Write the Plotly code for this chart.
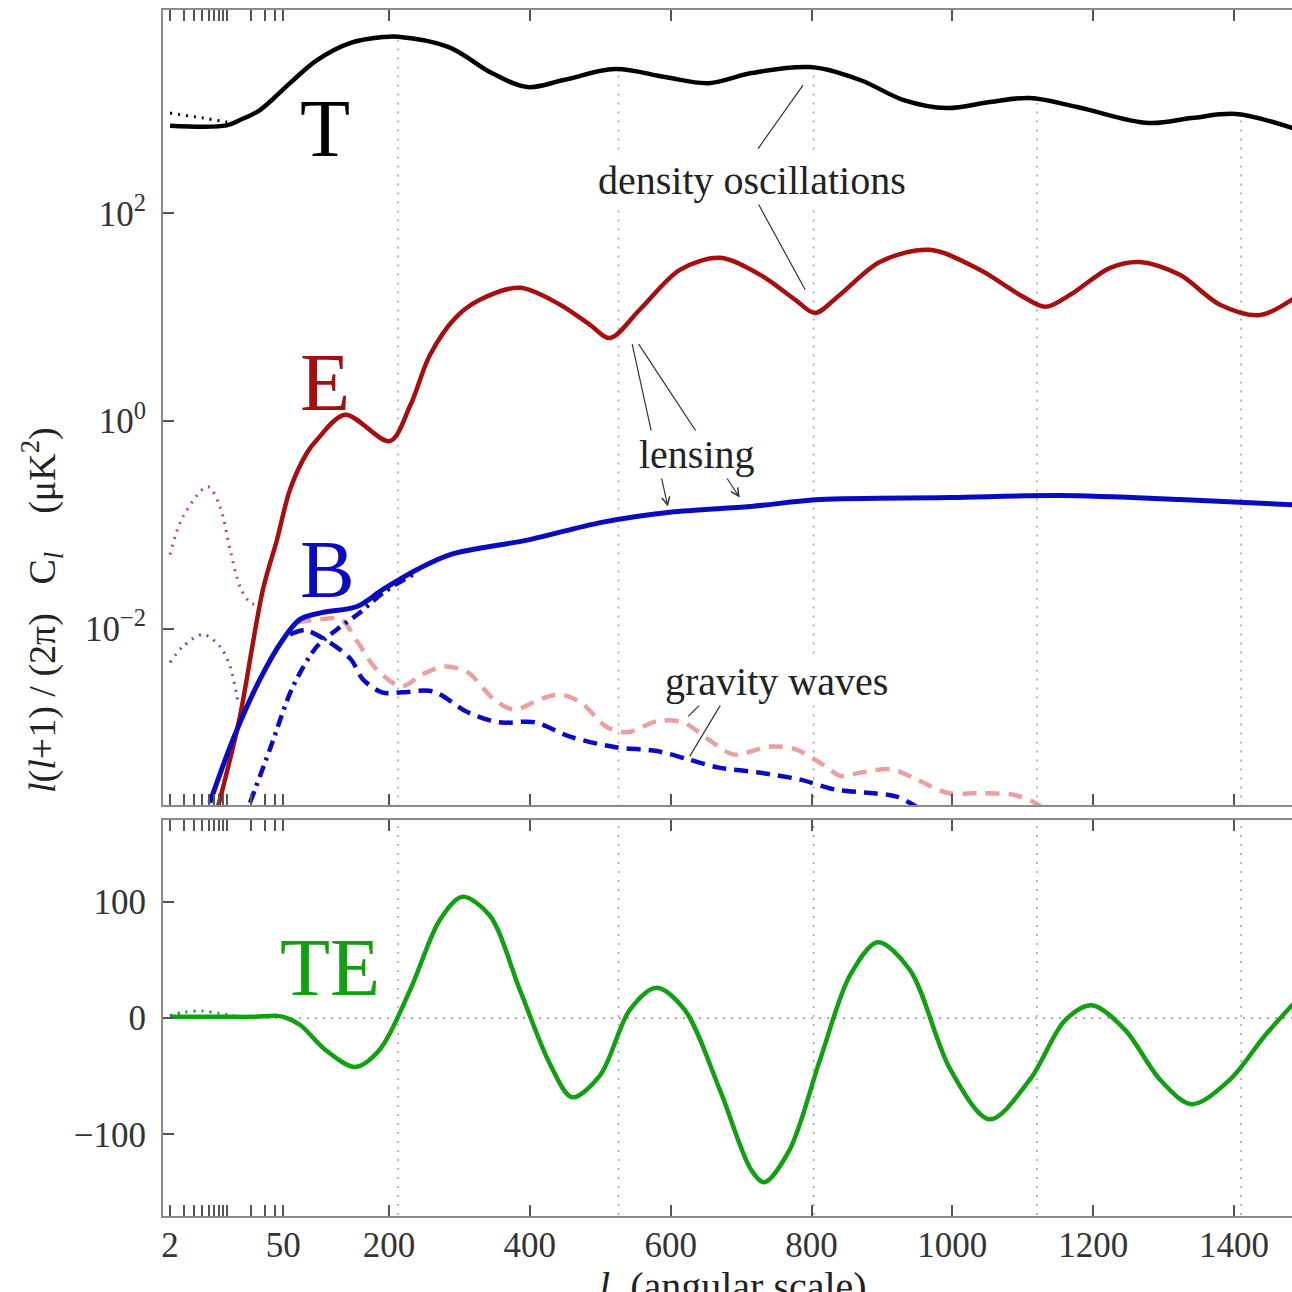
import numpy as np
import plotly.graph_objects as go

# ---------------- data ----------------
# Temperature spectrum
T_l = [2, 10, 14.6, 25.7, 59.4, 97.8, 144.6, 191.5, 213, 285, 346, 397, 448, 521, 592, 654, 715, 798,
       869, 931, 992, 1053, 1110, 1177, 1279, 1340, 1403, 1490]
T_v = [700, 705, 794, 990, 1800, 3000, 4380, 5000, 5050, 4010, 2250, 1650, 1930, 2460, 2060, 1800, 2250, 2570,
       1930, 1235, 1035, 1183, 1294, 1060, 743, 830, 908, 640]
# T reionization (dotted)
Tre_l = [2, 5.1, 10, 15]
Tre_v = [927, 830, 760, 720]

# E polarization
E_l = [7.8, 11.0, 14.6, 28.0, 41.8, 59.4, 83.6, 97.8, 137.5, 201, 230, 258, 294, 329, 386, 443, 485, 514,
       556, 613, 670, 727, 777, 805, 840, 897, 968, 1039, 1096, 1132, 1167, 1224, 1266, 1323, 1380, 1437, 1490]
E_v = [1.9e-4, 5.5e-4, 1.43e-3, 0.0238, 0.072, 0.218, 0.494, 0.66, 1.15, 0.64, 1.4, 4.3, 9.8, 14.7, 19.2,
       13.2, 8.5, 6.3, 11.8, 28.6, 37.3, 25.6, 14.7, 11.0, 16.4, 34.1, 44.6, 28.6, 16.4, 12.6, 16.4, 29.9,
       34.0, 25.6, 13.2, 10.5, 16.0]
# E reionization bump (dotted)
Ere_l = [2, 2.89, 5.84, 8.26, 11.0, 14.6, 19.4, 23.9]
Ere_v = [0.0516, 0.12, 0.233, 0.15, 0.0577, 0.0254, 0.0178, 0.017]

# B polarization (total)
B_l = [6.2, 12.0, 25.7, 49.5, 73.6, 106, 154.6, 191.5, 240, 287, 400, 500, 599, 713, 812, 997, 1153, 1323, 1490]
B_v = [2.1e-4, 8.6e-4, 0.00324, 0.00785, 0.01225, 0.0143, 0.0163, 0.0238, 0.0371, 0.0517, 0.072, 0.105,
       0.132, 0.150, 0.175, 0.183, 0.191, 0.175, 0.155]
# B reionization bump (dotted)
Bre_l = [2, 2.89, 5.1, 8.26, 11.0, 13.8]
Bre_v = [0.00472, 0.00673, 0.00877, 0.00673, 0.00431, 0.00195]
# B from lensing (dash-dot)
Blens_l = [19.4, 34.2, 63.7, 97.8, 126, 159, 194, 240]
Blens_v = [2.1e-4, 6.9e-4, 0.00277, 0.00673, 0.0098, 0.0143, 0.0227, 0.035]
# B from gravity waves (dashed)
Bgw_l = [59.4, 80, 87.8, 116, 146, 163, 190, 218.5, 262.5, 312, 356, 407, 457, 522, 580.5, 624.6, 667,
         725, 784, 835, 884, 921, 950]
Bgw_v = [0.0088, 0.0097, 0.00937, 0.00735, 0.00505, 0.00324, 0.00243, 0.00243, 0.00248, 0.00156, 0.00125,
         0.00125, 9.1e-4, 7.2e-4, 6.6e-4, 5.5e-4, 4.6e-4, 4.1e-4, 3.5e-4, 2.8e-4, 2.6e-4, 2.4e-4, 1.9e-4]
# E from gravity waves (light dashed)
Egw_l = [70, 102, 132, 155, 183, 218.5, 247, 279.5, 312, 349, 377.5, 414.5, 443, 472.6, 508, 538, 580.5,
         617.5, 653, 690, 740, 776.5, 812, 842, 870, 914, 950, 994, 1038, 1087.5, 1117, 1132]
Egw_v = [0.0115, 0.01225, 0.01225, 0.0075, 0.0040, 0.00277, 0.00361, 0.00431, 0.00378, 0.00208, 0.00166,
         0.00208, 0.00232, 0.00194, 0.00114, 0.0010, 0.00128, 0.00125, 8.6e-4, 6.1e-4, 7.3e-4, 6.9e-4,
         5.1e-4, 3.8e-4, 4.1e-4, 4.4e-4, 3.5e-4, 2.6e-4, 2.6e-4, 2.5e-4, 2.1e-4, 1.8e-4]

# TE cross spectrum
TE_l = [2, 10, 20, 30, 40, 50, 74, 109, 152, 187, 230, 272, 304, 343, 386, 429, 460, 500, 542, 580, 620,
        670, 714, 733, 769, 812, 855, 894, 940, 997, 1053, 1110, 1160, 1198, 1245, 1295, 1340, 1394, 1444, 1490]
TE_v = [1, 1, 1, 1.5, 2, 1, -6, -27, -42, -27, 24, 84, 104, 88, 24, -40, -68, -49, 7, 26, 7,
        -62, -130, -141, -113, -36, 37, 65, 41, -44, -87, -53, -2, 11, -10, -53, -74, -53, -15, 16]
TEre_l = [2, 3, 5, 8, 12, 20]
TEre_v = [2, 5, 6, 4, 2, 0.5]

# acoustic peak markers (dotted verticals)
peak_l = [213, 526, 803, 1120, 1410]

# axis ticks
tick_l = [2, 3, 4, 5, 6, 7, 8, 9, 10, 20, 30, 40, 50, 200, 400, 600, 800, 1000, 1200, 1400]
tick_txt = ['2'] + [''] * 11 + ['50', '200', '400', '600', '800', '1000', '1200', '1400']
ytop_ticks = [1e-2, 1, 1e2]
ytop_txt = ['10<sup>\u22122</sup>', '10<sup>0</sup>', '10<sup>2</sup>']
ybot_ticks = [-100, 0, 100]
ybot_txt = ['\u2212100', '0', '100']


# ---------------- scale: log below l=50, linear above ----------------
def lx(l):
    a = np.asarray(l, dtype=float)
    return np.where(a >= 50, a, 50 + 50 * np.log(np.maximum(a, 1e-9) / 50))


FONT = 'Liberation Serif'
BLACK = '#000000'
RED = '#a50f0f'
BLUE = '#0a0ac0'
GREEN = '#12a012'
PINK = '#eaa0a0'
GRID = '#a0a0a0'

YMIN_LOG, YMAX_LOG = -3.70, 3.96
XR = [-120.9, 1482.3]

fig = go.Figure()


def add(l, v, color, width, dash='solid', panel='top', smooth=0.9):
    fig.add_trace(go.Scatter(
        x=lx(l), y=v, mode='lines',
        line=dict(color=color, width=width, dash=dash, shape='spline', smoothing=smooth),
        xaxis='x' if panel == 'top' else 'x2', yaxis='y' if panel == 'top' else 'y2',
        showlegend=False, hoverinfo='skip'))


# dotted peak markers
gx, gy = [], []
logT = np.log10(T_v)
for p in peak_l:
    top = 10 ** np.interp(lx(p), lx(T_l), logT) * 0.93
    gx += [float(lx(p)), float(lx(p)), None]
    gy += [10 ** (YMIN_LOG - 0.1), top, None]
fig.add_trace(go.Scatter(x=gx, y=gy, mode='lines', line=dict(color=GRID, width=1.5, dash='2px,7px'),
                         xaxis='x', yaxis='y', showlegend=False, hoverinfo='skip'))
gx2, gy2 = [], []
for p in peak_l:
    gx2 += [float(lx(p)), float(lx(p)), None]
    gy2 += [-200, 200, None]
fig.add_trace(go.Scatter(x=gx2, y=gy2, mode='lines', line=dict(color=GRID, width=1.5, dash='2px,7px'),
                         xaxis='x2', yaxis='y2', showlegend=False, hoverinfo='skip'))
# zero line TE
fig.add_trace(go.Scatter(x=XR, y=[0, 0], mode='lines', line=dict(color='#909090', width=1.5, dash='2px,6px'),
                         xaxis='x2', yaxis='y2', showlegend=False, hoverinfo='skip'))

# top panel curves
add(Egw_l, Egw_v, PINK, 4.5, '14px,9px')
add(Bgw_l, Bgw_v, BLUE, 4.5, '14px,8px')
add(Blens_l, Blens_v, BLUE, 4.5, '12px,6px,3px,6px')
add(Ere_l, Ere_v, '#c84848', 3, '2px,6px')
add(Bre_l, Bre_v, '#4858d8', 3, '2px,6px')
add(Tre_l, Tre_v, BLACK, 3, '2px,6px')
add(E_l, E_v, RED, 4.5)
add(B_l, B_v, BLUE, 5)
add(T_l, T_v, BLACK, 4.5, smooth=1.0)
# bottom panel
add(TEre_l, TEre_v, GREEN, 3, '2px,6px', panel='bot')
add(TE_l, TE_v, GREEN, 4.5, panel='bot')

tickfont = dict(family=FONT, size=35, color='#333333')
common_x = dict(range=XR, tickmode='array', tickvals=lx(tick_l), ticks='inside', ticklen=11, tickwidth=1.5,
                tickcolor='#555555', showline=True, linecolor='#8a8a8a', linewidth=2, mirror='ticks',
                showgrid=False, zeroline=False, tickfont=tickfont, automargin=False)
common_y = dict(ticks='inside', ticklen=11, tickwidth=1.5, tickcolor='#555555', showline=True,
                linecolor='#8a8a8a', linewidth=2, mirror=False, showgrid=False, zeroline=False,
                tickfont=tickfont, ticklabelstandoff=8, automargin=False)

W = H = 1292
ML, MR, MT, MB = 163, 0, 10, 76
ph = H - MT - MB
pw = W - ML - MR
top_dom = [(1216 - 805) / ph, 1]
bot_dom = [0, (1216 - 820) / ph]

fig.update_layout(
    width=W, height=H, margin=dict(l=ML, r=MR, t=MT, b=MB),
    paper_bgcolor='white', plot_bgcolor='white',
    xaxis=dict(common_x, anchor='y', showticklabels=False, ticktext=['' for _ in tick_l]),
    yaxis=dict(common_y, type='log', range=[YMIN_LOG, YMAX_LOG], domain=top_dom, anchor='x',
               tickmode='array', tickvals=ytop_ticks, ticktext=ytop_txt),
    xaxis2=dict(common_x, anchor='y2', ticktext=tick_txt, ticklabelstandoff=-3),
    yaxis2=dict(common_y, range=[-170, 170], domain=bot_dom, anchor='x2',
                tickmode='array', tickvals=ybot_ticks, ticktext=ybot_txt),
)

big = dict(family=FONT, size=82)
ann_font = dict(family=FONT, size=40, color='#222222')
annotations = [
    dict(text='T', x=float(lx(109)), y=2.823, xref='x', yref='y', showarrow=False, font=dict(big, color=BLACK)),
    dict(text='E', x=float(lx(109)), y=0.369, xref='x', yref='y', showarrow=False, font=dict(big, color=RED)),
    dict(text='B', x=float(lx(113)), y=-1.431, xref='x', yref='y', showarrow=False, font=dict(big, color=BLUE)),
    dict(text='TE', x=float(lx(116)), y=43.6, xref='x2', yref='y2', showarrow=False, font=dict(big, color=GREEN)),
]
# pointer lines
lines = [
    (788, 3.237, -46, 65, 0), (791, 1.264, -48, -88, 0),          # density oscillations
    (596, -0.825, -36, -164, 5), (698, -0.738, -102, -155, 5),   # lensing
    (625, -2.846, 20, -20, 0), (627, -3.231, 36, -60, 0),        # gravity waves
]
for (l, ylog, ax, ay, head) in lines:
    annotations.append(dict(x=float(lx(l)), y=ylog, xref='x', yref='y', text='', showarrow=True,
                            ax=ax, ay=ay, axref='pixel', ayref='pixel', arrowhead=head, arrowsize=1.3,
                            arrowwidth=1.2, arrowcolor='#333333', standoff=0, startstandoff=0))
NB = '\u00a0'
annotations += [
    dict(text='density oscillations', x=float(lx(715)), y=2.313, xref='x', yref='y', showarrow=False,
         font=ann_font, bgcolor='white'),
    dict(text='lensing', x=float(lx(637)), y=-0.324, xref='x', yref='y', showarrow=False,
         font=ann_font, bgcolor='white'),
    dict(text='gravity waves', x=float(lx(750)), y=-2.509, xref='x', yref='y', showarrow=False,
         font=ann_font, bgcolor='white'),
    dict(text='<i>l</i>(<i>l</i>+1) / (2\u03c0)' + NB * 3 + 'C<sub><i>l</i></sub>' + NB * 4 +
              '(\u03bcK<sup>2</sup>)',
         x=(42 - 163) / pw, y=(1216 - 610) / ph, xref='paper', yref='paper', textangle=-90,
         showarrow=False, font=dict(family=FONT, size=38, color='#222222'), xanchor='center', yanchor='middle'),
    dict(text='<i>l</i>' + NB * 2 + '(angular scale)', x=(733 - 163) / pw, y=(1216 - 1262) / ph,
         xref='paper', yref='paper',
         showarrow=False, yanchor='top', font=dict(family=FONT, size=40, color='#222222')),
]
fig.update_layout(annotations=annotations)

# let the 1292x1292 figure fill the page exactly (no body margin, no scrollbars, no toolbar)
fig.write_html('out.html', config={'displayModeBar': False},
               post_script="document.body.style.margin='0';document.body.style.overflow='hidden';")
